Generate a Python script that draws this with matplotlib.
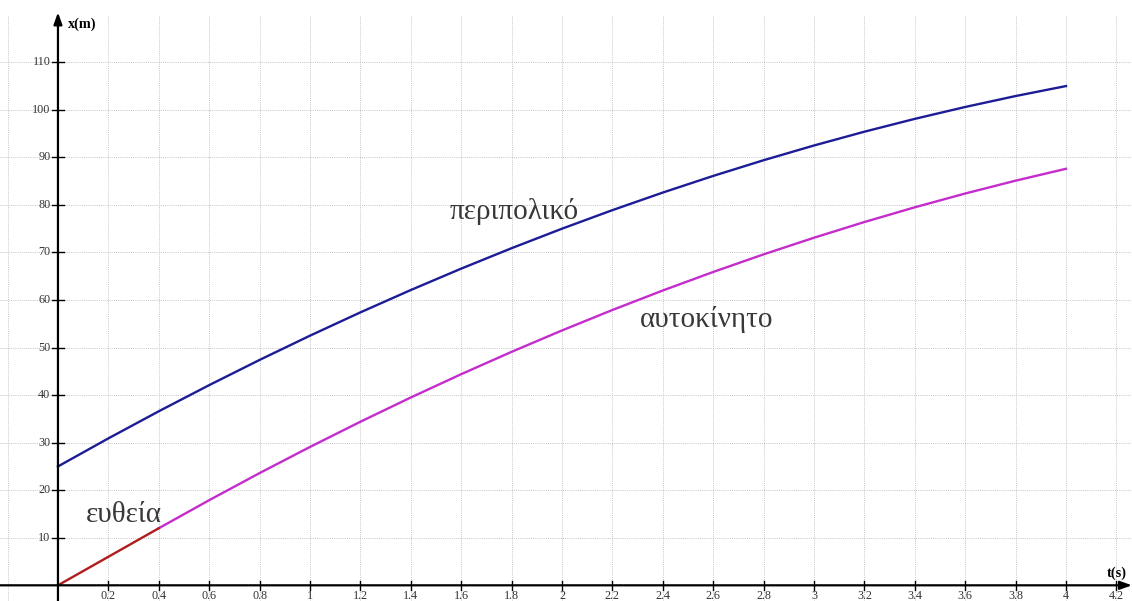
import matplotlib.pyplot as plt
import numpy as np

plt.rcParams['font.family'] = ['Liberation Serif', 'DejaVu Serif']

# time samples (s)
t = [0, 0.2, 0.4, 0.6, 0.8, 1.0, 1.2, 1.4, 1.6, 1.8, 2.0,
     2.2, 2.4, 2.6, 2.8, 3.0, 3.2, 3.4, 3.6, 3.8, 4.0]
# patrol car position (m)
x_police = [25, 30.9, 36.6, 42.1, 47.4, 52.5, 57.4, 62.1, 66.6, 70.9, 75,
            78.9, 82.6, 86.1, 89.4, 92.5, 95.4, 98.1, 100.6, 102.9, 105]
# car: straight part then braking part
t_line = [0, 0.4]
x_line = [0, 12]
t_car = t[2:]
x_car = [12, 17.9, 23.6, 29.1, 34.4, 39.5, 44.4, 49.1, 53.6, 57.9,
         62, 65.9, 69.6, 73.1, 76.4, 79.5, 82.4, 85.1, 87.6]

xticks = [0.2, 0.4, 0.6, 0.8, 1, 1.2, 1.4, 1.6, 1.8, 2, 2.2, 2.4, 2.6, 2.8,
          3, 3.2, 3.4, 3.6, 3.8, 4, 4.2]
xtick_labels = ['0.2', '0.4', '0.6', '0.8', '1', '1.2', '1.4', '1.6', '1.8', '2',
                '2.2', '2.4', '2.6', '2.8', '3', '3.2', '3.4', '3.6', '3.8', '4', '4.2']
yticks = [10, 20, 30, 40, 50, 60, 70, 80, 90, 100, 110]

fig = plt.figure(figsize=(11.32, 6.01), dpi=100)
ax = fig.add_axes([0, 0, 1, 1])
xmin, xmax = -0.23, 4.262
ymin, ymax = -3.3, 123.1
ax.set_xlim(xmin, xmax)
ax.set_ylim(ymin, ymax)
ax.set_xticks([])
ax.set_yticks([])
for s in ax.spines.values():
    s.set_visible(False)

# dotted grid
grid_kw = dict(color='#c4c4cc', linestyle=(0, (1, 1.2)), linewidth=0.7, zorder=0)
for gx in [-0.2] + xticks:
    ax.plot([gx, gx], [ymin, 120], **grid_kw)
for gy in yticks:
    ax.plot([xmin, xmax], [gy, gy], **grid_kw)

# curves
ax.plot(t, x_police, color='#1c1c96', lw=1.7, zorder=3)
ax.plot(t_car, x_car, color='#c42ccc', lw=1.7, zorder=3)
ax.plot(t_line, x_line, color='#b01c1c', lw=1.7, zorder=4)

# axes with arrows
arrow = dict(arrowstyle='-|>,head_length=0.7,head_width=0.25',
             color='black', lw=1.6, shrinkA=0, shrinkB=0)
ax.annotate('', xy=(4.262, 0), xytext=(xmin, 0), arrowprops=arrow, zorder=5)
ax.annotate('', xy=(0, 120.5), xytext=(0, ymin), arrowprops=arrow, zorder=5)

# ticks crossing the axes
for xt, lab in zip(xticks, xtick_labels):
    ax.plot([xt, xt], [-1.0, 1.0], color='black', lw=1.0, zorder=5)
    ax.text(xt, -2.85, lab, ha='center', va='baseline', fontsize=8.7, color='#333333')
for yt in yticks:
    ax.plot([-0.025, 0.025], [yt, yt], color='black', lw=1.0, zorder=5)
    ax.text(-0.03, yt, str(yt), ha='right', va='center', fontsize=8.7, color='#333333')

ax.text(0.04, 118.1, 'x(m)', ha='left', va='center', fontsize=10.3, fontweight='bold')
ax.text(4.2, 2.6, 't(s)', ha='center', va='center', fontsize=10.3, fontweight='bold')

ax.text(1.81, 78.6, 'περιπολικό', ha='center', va='center', fontsize=21, color='#383838')
ax.text(2.575, 55.8, 'αυτοκίνητο', ha='center', va='center', fontsize=21, color='#383838')
ax.text(0.26, 14.8, 'ευθεία', ha='center', va='center', fontsize=21, color='#383838')

fig.savefig('out.png', dpi=100)
